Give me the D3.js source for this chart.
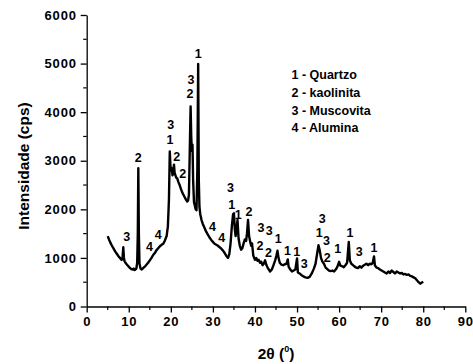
<!DOCTYPE html>
<html><head><meta charset="utf-8">
<script src="https://cdn.jsdelivr.net/npm/d3@7"></script>
<style>
body{margin:0;background:#fff;}
text{font-family:"Liberation Sans",Arial,sans-serif;font-weight:bold;fill:#000;}
</style></head>
<body><svg id="c" width="473" height="364"></svg>
<script>
const twoTheta = [5.0,5.3,5.6,6.0,6.4,6.8,7.2,7.6,8.0,8.3,8.5,8.7,8.85,9.0,9.4,9.8,10.2,10.6,11.0,11.2,11.4,11.8,12.0,12.15,12.27,12.4,12.55,12.8,13.1,13.4,13.8,14.2,14.6,15.0,15.4,15.8,16.2,16.6,17.0,17.4,17.8,18.2,18.6,19.0,19.3,19.55,19.75,19.9,20.05,20.2,20.4,20.6,20.75,20.9,21.1,21.3,21.5,21.8,22.1,22.4,22.7,23.0,23.3,23.6,23.9,24.1,24.3,24.5,24.7,24.85,25.0,25.15,25.3,25.5,25.7,25.9,26.1,26.3,26.5,26.65,26.8,27.0,27.3,27.6,28.0,28.4,28.8,29.2,29.6,30.0,30.4,30.8,31.2,31.6,32.0,32.4,32.8,33.2,33.6,33.9,34.2,34.5,34.8,35.0,35.2,35.4,35.6,35.85,36.1,36.4,36.7,37.0,37.3,37.6,37.9,38.1,38.35,38.6,38.9,39.1,39.3,39.6,40.0,40.3,40.6,40.9,41.2,41.5,41.8,42.1,42.4,42.7,43.0,43.3,43.6,44.0,44.4,44.8,45.1,45.35,45.6,45.9,46.3,46.7,47.1,47.5,47.8,48.0,48.4,48.8,49.2,49.6,50.0,50.2,50.6,51.0,51.5,52.0,52.5,53.0,53.5,54.0,54.4,54.8,55.1,55.4,55.7,56.0,56.4,56.8,57.2,57.6,58.0,58.4,58.8,59.2,59.6,60.0,60.3,60.7,61.1,61.5,61.9,62.3,62.55,62.9,63.3,63.7,64.1,64.5,64.9,65.3,65.7,66.1,66.5,66.9,67.3,67.7,68.0,68.3,68.5,68.9,69.3,69.7,70.1,70.5,70.9,71.3,71.7,72.1,72.5,72.9,73.3,73.7,74.1,74.5,74.9,75.3,75.7,76.1,76.5,76.9,77.3,77.7,78.1,78.5,78.9,79.3,79.6,80.0];
const intensity = [1450,1380,1320,1250,1190,1130,1080,1030,990,960,980,1220,1000,930,880,840,800,770,760,780,750,780,900,1500,2845,1500,880,780,760,790,820,860,900,950,1000,1060,1100,1160,1200,1240,1270,1290,1360,1450,1650,2200,3190,2900,2800,2850,2700,2800,2920,2750,2700,2650,2640,2560,2500,2420,2350,2300,2250,2200,2160,2180,2300,3200,4120,3500,3200,3330,2600,2150,2080,2000,1980,2800,4990,2600,2050,1900,1780,1700,1620,1540,1480,1420,1370,1330,1290,1270,1250,1220,1190,1150,1100,1040,1000,1080,1300,1650,1900,1920,1600,1450,1600,1780,1400,1250,1170,1200,1300,1380,1350,1500,1780,1450,1320,1250,1300,1050,960,1000,940,960,900,920,850,880,950,860,800,760,720,760,850,950,1050,1150,1000,900,860,850,870,880,970,820,760,720,740,760,990,700,680,650,620,600,590,610,680,780,880,1100,1260,1150,1000,930,880,800,770,740,730,740,720,760,820,920,840,830,810,850,900,1330,950,880,850,820,800,790,830,800,840,860,880,850,880,870,900,1030,850,800,790,760,740,720,700,680,720,690,740,710,680,720,700,680,690,660,670,650,660,630,620,600,580,540,500,470,490,510];

const peakX = [9.5,12.27,14.9,17.0,20.0,19.8,21.4,22.8,24.8,24.55,26.5,29.9,32.1,34.2,34.5,36.0,38.6,41.4,43.4,41.2,43.2,45.5,47.7,49.9,51.7,56.0,55.3,57.0,57.2,59.7,62.6,64.8,68.3];
const peakY = [1437,3050,1231,1472,3736,3427,3084,2727,4662,4368,5198,1643,1404,2433,2089,1884,1952,1610,1554,1245,1108,1383,1142,1128,875,1795,1519,1348,1005,1177,1507,1116,1198];
const peakLabel = ["3","2","4","4","3","1","2","2","3","2","1","4","4","3","1","1","2","3","3","2","2","1","1","1","3","3","1","3","2","1","1","3","1"];

const legendItems = ["1 - Quartzo","2 - kaolinita","3 - Muscovita","4 - Alumina"];
const xTicks = [0,10,20,30,40,50,60,70,80,90];
const yTicks = [0,1000,2000,3000,4000,5000,6000];

const svg = d3.select("#c");
const x = d3.scaleLinear().domain([0,90]).range([86.7,465.3]);
const y = d3.scaleLinear().domain([0,6000]).range([306.5,15]);

const xMinor = d3.range(5,90,10);
const yMinor = d3.range(500,6000,1000);
svg.append("g").selectAll("line").data(xMinor).join("line")
  .attr("x1",d=>x(d)).attr("x2",d=>x(d)).attr("y1",y(0)).attr("y2",y(0)+3.5)
  .attr("stroke","#000").attr("stroke-width",1.2);
svg.append("g").selectAll("line").data(yMinor).join("line")
  .attr("y1",d=>y(d)).attr("y2",d=>y(d)).attr("x1",x(0)).attr("x2",x(0)-3.5)
  .attr("stroke","#000").attr("stroke-width",1.2);

const xAxis = svg.append("g").attr("transform",`translate(0,${y(0)})`)
  .call(d3.axisBottom(x).tickValues(xTicks).tickFormat(d3.format("d")).tickSize(6).tickPadding(4).tickSizeOuter(0));
const yAxis = svg.append("g").attr("transform",`translate(${x(0)},0)`)
  .call(d3.axisLeft(y).tickValues(yTicks).tickFormat(d3.format("d")).tickSize(6).tickPadding(4).tickSizeOuter(0));
[xAxis,yAxis].forEach(a=>{
  a.attr("font-family",null).attr("font-size",null);
  a.selectAll("path,line").attr("stroke","#000").attr("stroke-width",1.3);
  a.selectAll("text").attr("font-size",13).attr("letter-spacing","0.8px");
});

const line = d3.line().x((d,i)=>x(twoTheta[i])).y((d,i)=>y(intensity[i]));
svg.append("path").datum(intensity).attr("d",line)
  .attr("fill","none").attr("stroke","#000").attr("stroke-width",2.4).attr("stroke-linejoin","round");

svg.append("g").selectAll("text").data(peakLabel).join("text")
  .attr("x",(d,i)=>x(peakX[i])).attr("y",(d,i)=>y(peakY[i]))
  .attr("text-anchor","middle").attr("dominant-baseline","central")
  .attr("font-size",12.5).text(d=>d);

svg.append("g").selectAll("text").data(legendItems).join("text")
  .attr("x",291.5).attr("y",(d,i)=>75+i*17.8)
  .attr("dominant-baseline","central").attr("font-size",12.5).text(d=>d);

svg.append("text").attr("transform","translate(23,166) rotate(-90)")
  .attr("text-anchor","middle").attr("dominant-baseline","central")
  .attr("font-size",15.5).text("Intensidade (cps)");
const xt = svg.append("text").attr("x",276).attr("y",359)
  .attr("text-anchor","middle").attr("font-size",15.5);
xt.append("tspan").text("2θ (");
xt.append("tspan").attr("font-size",9).attr("dy",-7).text("0");
xt.append("tspan").attr("dy",7).text(")");
</script></body></html>
